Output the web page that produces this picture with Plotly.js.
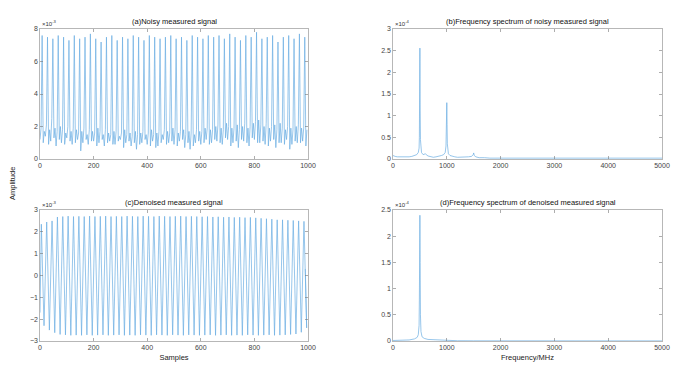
<!DOCTYPE html>
<html><head><meta charset="utf-8">
<script src="https://cdn.plot.ly/plotly-3.0.1.min.js"></script>
<style>html,body{margin:0;padding:0;background:#fff}#chart{width:680px;height:368px}</style>
</head><body><div id="chart"></div>
<script>
// ---------- data ----------
// (a) noisy signal, x1e-3 : one spike per cycle, four baseline readings per cycle
const noisyPeaks = [7.6,7.5,7.4,7.6,7.5,7.3,7.6,7.4,7.5,7.7,7.4,7.2,7.5,7.6,7.3,7.5,7.4,7.6,7.5,7.3,
  7.6,7.5,7.4,7.5,7.6,7.4,7.5,7.3,7.6,7.5,7.4,7.6,7.5,7.6,7.4,7.7,7.5,7.3,7.6,7.5,
  7.8,7.4,7.5,7.6,7.2,7.5,7.6,7.4,7.7,7.5];
const noisyBase = [
  1.2,1.9,1.0,1.7, 1.4,2.1,0.9,1.8, 1.1,2.5,1.3,1.9, 0.8,1.7,1.2,2.0, 1.0,1.8,0.9,1.6,
  1.3,2.0,1.1,1.7, 0.9,1.9,1.0,1.8, 1.2,1.6,0.5,1.7, 1.0,1.9,1.2,1.5, 0.9,1.8,1.1,1.7,
  1.1,1.6,0.8,1.9, 1.0,1.7,1.2,1.5, 0.8,1.8,1.0,1.6, 1.1,1.5,0.9,1.7, 0.9,1.7,1.1,1.4,
  1.2,1.6,0.7,1.8, 1.0,1.5,1.1,1.6, 0.8,1.4,1.0,1.7, 0.6,1.5,0.9,1.6, 1.0,1.7,1.2,1.5,
  0.9,1.6,0.8,1.8, 1.1,1.5,0.7,1.6, 0.8,1.7,1.0,1.5, 1.2,1.8,0.9,1.7, 1.0,1.6,1.1,1.9,
  0.9,1.8,0.8,1.6, 1.1,1.7,1.2,1.8, 0.7,1.5,1.0,1.7, 0.6,1.6,0.8,1.5, 1.0,1.8,1.1,1.7,
  0.9,1.7,1.0,1.9, 1.2,1.9,0.9,1.8, 1.0,1.8,1.2,2.0, 1.1,2.1,1.0,1.9, 0.9,1.8,1.3,2.2,
  1.2,2.0,0.8,1.9, 1.0,1.9,1.1,2.1, 0.7,1.8,1.2,2.0, 1.1,2.2,1.0,1.9, 0.8,2.0,1.3,2.2,
  1.2,2.3,1.0,2.4, 1.0,2.1,1.1,2.0, 0.9,2.2,0.8,1.9, 1.1,2.0,1.2,2.1, 0.7,1.8,1.0,2.2,
  1.0,1.9,0.9,1.8, 1.2,2.0,0.6,1.9, 0.9,1.8,1.1,2.0, 1.0,2.1,1.0,1.9, 1.1,1.9,0.8,1.8];
const samplesPerCycle = 20;

// (c) denoised signal, x1e-3 : crest and trough of each cycle
const denoisedStart = -1.7, denoisedEnd = 0.3;
const denoisedPeaks = [2.35,2.45,2.5,2.68,2.7,2.72,2.7,2.71,2.7,2.72,2.7,2.71,2.72,2.7,2.71,2.7,2.72,2.71,2.7,2.72,
  2.71,2.7,2.72,2.71,2.7,2.71,2.72,2.7,2.71,2.7,2.69,2.7,2.68,2.69,2.67,2.68,2.66,2.67,2.65,2.66,
  2.64,2.62,2.6,2.58,2.55,2.55,2.53,2.52,2.5,2.48];
const denoisedTroughs = [-2.3,-2.5,-2.62,-2.7,-2.72,-2.74,-2.73,-2.74,-2.72,-2.74,-2.73,-2.72,-2.74,-2.73,-2.72,-2.74,-2.73,-2.74,-2.72,-2.73,
  -2.74,-2.72,-2.73,-2.74,-2.72,-2.73,-2.74,-2.72,-2.73,-2.74,-2.73,-2.72,-2.74,-2.73,-2.72,-2.74,-2.73,-2.74,-2.72,-2.73,
  -2.74,-2.73,-2.72,-2.74,-2.73,-2.72,-2.7,-2.68,-2.6,-2.4];

// (b) spectrum of noisy signal, x1e-4
const noisySpecFreq = [0,10,20,40,80,120,160,200,250,300,350,400,440,470,485,490,495,500,505,510,515,530,560,600,650,700,750,800,850,900,940,970,985,990,995,1000,1005,1010,1015,1030,1060,1100,1150,1200,1300,1400,1460,1490,1500,1510,1540,1600,1700,1800,2000,2200,2400,2500,2600,2800,3000,3200,3400,3600,3800,4000,4200,4400,4600,4800,5000];
const noisySpecAmp  = [0.08,0.07,0.06,0.06,0.05,0.05,0.04,0.05,0.04,0.05,0.06,0.08,0.1,0.15,0.25,0.5,1.4,2.56,1.2,0.45,0.25,0.15,0.1,0.12,0.07,0.05,0.04,0.05,0.06,0.08,0.1,0.15,0.3,0.6,1.0,1.3,0.8,0.35,0.2,0.12,0.08,0.06,0.05,0.04,0.04,0.05,0.06,0.1,0.14,0.08,0.05,0.03,0.03,0.02,0.02,0.02,0.02,0.03,0.02,0.02,0.02,0.02,0.02,0.02,0.02,0.03,0.02,0.02,0.02,0.02,0.02];

// (d) spectrum of denoised signal, x1e-4
const denoisedSpecFreq = [0,100,200,300,400,450,470,485,490,495,500,505,510,520,540,580,650,800,1000,1200,1500,2000,3000,4000,5000];
const denoisedSpecAmp  = [0.01,0.01,0.02,0.02,0.04,0.07,0.12,0.3,0.8,1.8,2.4,1.5,0.5,0.18,0.08,0.05,0.03,0.02,0.01,0.005,0.003,0.002,0.002,0.002,0.002];

const timeTicks = [0,200,400,600,800,1000];
const freqTicks = [0,1000,2000,3000,4000,5000];
const titles = ['(a)Noisy measured signal','(b)Frequency spectrum of noisy measured signal',
                '(c)Denoised measured signal','(d)Frequency spectrum of denoised measured signal'];
const exponents = ['\u00d710<sup>-3</sup>','\u00d710<sup>-4</sup>','\u00d710<sup>-3</sup>','\u00d710<sup>-4</sup>'];

// ---------- build series ----------
const nx = [], ny = [];
for (let k = 0; k < noisyPeaks.length; k++) {
  const b = noisyBase.slice(4*k, 4*k+4);
  const vals = [b[0], b[1], noisyPeaks[k], b[2], b[3]];
  for (let j = 0; j < 5; j++) { nx.push(k*samplesPerCycle + j*4); ny.push(vals[j]); }
}
const dx = [0], dy = [denoisedStart];
for (let k = 0; k < denoisedPeaks.length; k++) {
  dx.push(k*samplesPerCycle + 5);  dy.push(denoisedPeaks[k]);
  dx.push(k*samplesPerCycle + 15); dy.push(denoisedTroughs[k]);
}
dx.push(990); dy.push(denoisedEnd);

const lineCol = '#6aaee3';
const traces = [
  {x: nx, y: ny, xaxis:'x', yaxis:'y', type:'scatter', mode:'lines', line:{color:lineCol, width:0.7}},
  {x: noisySpecFreq, y: noisySpecAmp, xaxis:'x2', yaxis:'y2', type:'scatter', mode:'lines', line:{color:lineCol, width:0.7}},
  {x: dx, y: dy, xaxis:'x3', yaxis:'y3', type:'scatter', mode:'lines', line:{color:lineCol, width:0.7}},
  {x: denoisedSpecFreq, y: denoisedSpecAmp, xaxis:'x4', yaxis:'y4', type:'scatter', mode:'lines', line:{color:lineCol, width:0.7}}
];

const tickFont = {family:'Liberation Sans, Arial, sans-serif', size:7, color:'#444'};
function ax(domain, range, tickvals, extra) {
  return Object.assign({domain, range, tickmode:'array', tickvals, ticks:'inside', ticklen:3, tickwidth:0.6,
    tickcolor:'#777', showline:true, linecolor:'#999', linewidth:0.7, mirror:'ticks', showgrid:false,
    zeroline:false, tickfont:tickFont, fixedrange:true}, extra||{});
}
const XL = [40/680, 308/680], XR = [393/680, 662/680];
const YT = [1-159/368, 1-29/368], YB = [1-341/368, 1-210/368];

const layout = {
  width:680, height:368, margin:{l:0,r:0,t:0,b:0}, showlegend:false,
  paper_bgcolor:'#fff', plot_bgcolor:'#fff',
  font:{family:'Liberation Sans, Arial, sans-serif', color:'#222'},
  xaxis:  ax(XL, [0,1000], timeTicks, {anchor:'y'}),
  yaxis:  ax(YT, [0,8], [0,2,4,6,8], {anchor:'x'}),
  xaxis2: ax(XR, [0,5000], freqTicks, {anchor:'y2'}),
  yaxis2: ax(YT, [0,3], [0,0.5,1,1.5,2,2.5,3], {anchor:'x2'}),
  xaxis3: ax(XL, [0,1000], timeTicks, {anchor:'y3', title:{text:'Samples', font:{size:7.5, color:'#222'}, standoff:4}}),
  yaxis3: ax(YB, [-3,3], [-3,-2,-1,0,1,2,3], {anchor:'x3'}),
  xaxis4: ax(XR, [0,5000], freqTicks, {anchor:'y4', title:{text:'Frequency/MHz', font:{size:7.5, color:'#222'}, standoff:4}}),
  yaxis4: ax(YB, [0,2.5], [0,0.5,1,1.5,2,2.5], {anchor:'x4'}),
  annotations: []
};
const axNames = [['x','y'],['x2','y2'],['x3','y3'],['x4','y4']];
for (let i = 0; i < 4; i++) {
  layout.annotations.push({text: titles[i], xref: axNames[i][0]+' domain', yref: axNames[i][1]+' domain',
    x:0.5, y:1, xanchor:'center', yanchor:'bottom', yshift:1, showarrow:false,
    font:{size:7.5, color:'#111'}});
  layout.annotations.push({text: exponents[i], xref: axNames[i][0]+' domain', yref: axNames[i][1]+' domain',
    x:0, y:1, xanchor:'left', yanchor:'bottom', yshift:0, showarrow:false,
    font:{size:6, color:'#333'}});
}
layout.annotations.push({text:'Amplitude', xref:'paper', yref:'paper', x:12/680, y:1-184/368,
  xanchor:'center', yanchor:'middle', textangle:-90, showarrow:false, font:{size:7.5, color:'#222'}});

Plotly.newPlot('chart', traces, layout, {displayModeBar:false, staticPlot:true});
</script></body></html>
